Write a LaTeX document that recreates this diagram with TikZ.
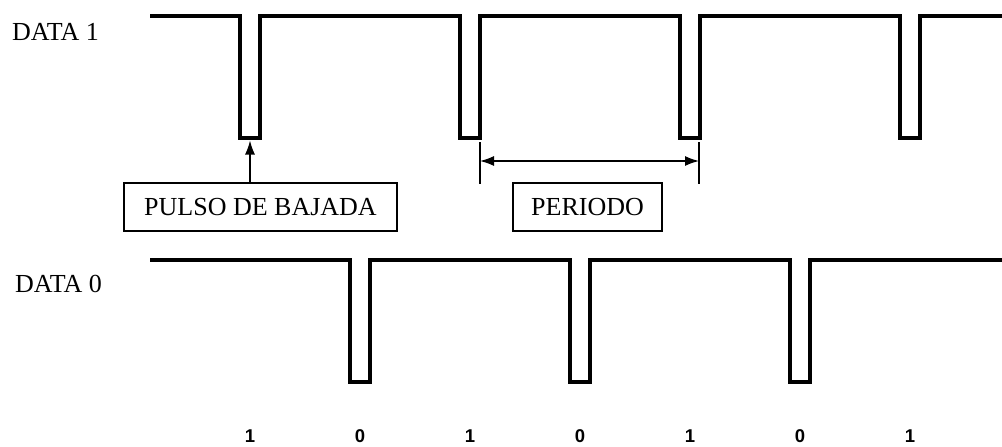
\documentclass[tikz,border=0pt]{standalone}
\usepackage{fontspec}
\setmainfont{Liberation Serif}
\newfontfamily\bitfont{Liberation Sans}
\usetikzlibrary{arrows.meta}
\begin{document}
\begin{tikzpicture}[x=1pt,y=-1pt,
  wave/.style={line width=4pt,line join=miter,line cap=butt},
  lbl/.style={font=\fontsize{26}{30}\selectfont,inner sep=0pt,anchor=base west},
  boxlbl/.style={draw,line width=1.4pt,font=\fontsize{26}{30}\selectfont,inner sep=0pt,minimum height=48pt},
  bit/.style={font=\bitfont\bfseries\fontsize{18.5}{20}\selectfont,inner sep=0pt},
  thin/.style={line width=1.4pt},
  tip/.style={-{Latex[length=14pt,width=10pt]}}]
\useasboundingbox (0,0) rectangle (1002,447);
% labels
\node[lbl] (d1) at (12,40) {DATA 1};
\node[lbl] (d0) at (15,292) {DATA 0};
% DATA 1 waveform
\draw[wave] (150,16) -- (240,16) -- (240,137.5) -- (260,137.5) -- (260,16)
  -- (460,16) -- (460,137.5) -- (480,137.5) -- (480,16)
  -- (680,16) -- (680,137.5) -- (700,137.5) -- (700,16)
  -- (900,16) -- (900,137.5) -- (920,137.5) -- (920,16) -- (1002,16);
% DATA 0 waveform
\draw[wave] (150,260) -- (350,260) -- (350,381.5) -- (370,381.5) -- (370,260)
  -- (570,260) -- (570,381.5) -- (590,381.5) -- (590,260)
  -- (790,260) -- (790,381.5) -- (810,381.5) -- (810,260) -- (1002,260);
% boxes
\node[boxlbl,minimum width=273pt] (pulso) at (260.5,207) {PULSO DE BAJADA};
\node[boxlbl,minimum width=149pt] (periodo) at (587.5,207) {PERIODO};
% pulse arrow
\coordinate (pb) at (250,140.5);
\draw[thin,tip] (pulso.north -| pb) -- (pb);
% period marks
\coordinate (ta) at (480,142);
\coordinate (tb) at (480,184);
\coordinate (tc) at (699,142);
\coordinate (td) at (699,184);
\draw[thin] (ta) -- (tb);
\draw[thin] (tc) -- (td);
\coordinate (aa) at (480,161);
\coordinate (ab) at (699,161);
\draw[thin,{Latex[length=14pt,width=10pt]}-{Latex[length=14pt,width=10pt]}] (aa) -- (ab);
% bits
\node[bit] (b1) at (250,436) {1};
\node[bit] (b2) at (360,436) {0};
\node[bit] (b3) at (470,436) {1};
\node[bit] (b4) at (580,436) {0};
\node[bit] (b5) at (690,436) {1};
\node[bit] (b6) at (800,436) {0};
\node[bit] (b7) at (910,436) {1};
\end{tikzpicture}
\end{document}
